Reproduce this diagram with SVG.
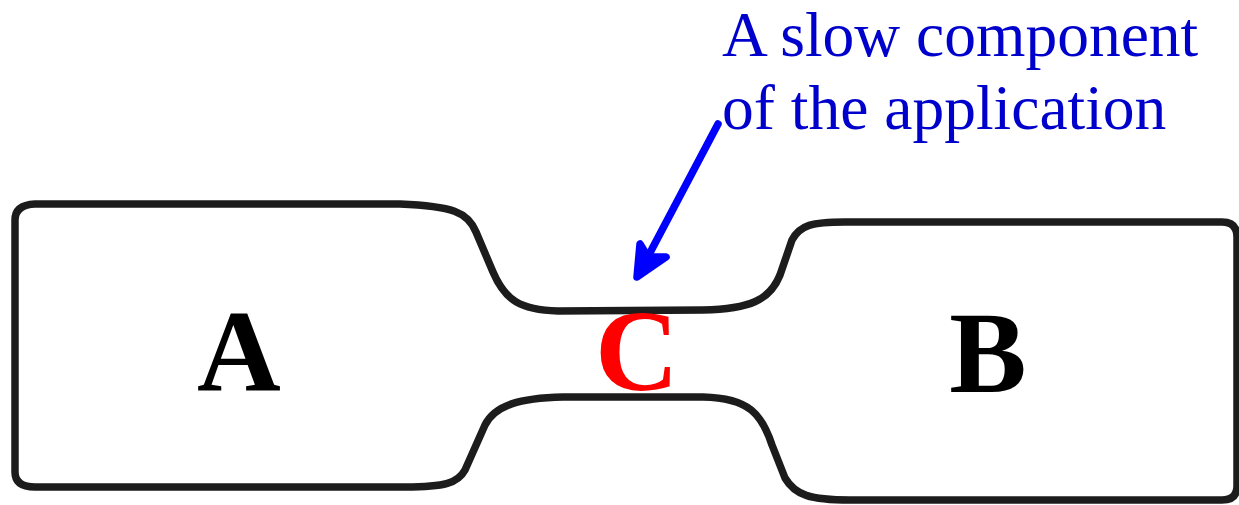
<svg xmlns="http://www.w3.org/2000/svg" width="1239" height="505" viewBox="0 0 1239 505">
<style>
.outline{fill:none;stroke:#1c1c1c;stroke-width:7.5;stroke-linejoin:round;stroke-linecap:round}
.big{font-family:"Liberation Serif","Times New Roman",serif;font-weight:bold;font-size:116px;text-anchor:middle}
.note{font-family:"Liberation Serif","Times New Roman",serif;font-size:63.5px;fill:#0000CC}
.arrow{stroke:#0000FF;stroke-width:7.5;stroke-linecap:round;stroke-linejoin:round;fill:#0000FF}
</style>
<rect width="1239" height="505" fill="#ffffff"/>
<g id="outline">
<path class="outline" d="M15,220 Q15,205 35,204 L400,204 C452,206 468,212 476,232 L493,272 C505,300 520,310 558,311 L703,310 C750,309 770,300 780,275 L792,240 C800,225 812,222 845,222 L1222,222 Q1237,222 1237,237 L1237,486 Q1237,500 1222,500 L850,500 C810,500 795,495 785,478 L772,445 C762,415 750,398 703,397 L563,397 C520,398 495,405 485,425 L465,470 C458,483 445,487 405,487 L35,487 Q15,487 15,472 Z"/>
</g>
<g id="nodeA"><text class="big" x="239" y="390" fill="#000000">A</text></g>
<g id="nodeC"><text class="big" x="637" y="390" fill="#FF0000">C</text></g>
<g id="nodeB"><text class="big" x="988" y="392" fill="#000000">B</text></g>
<g id="annotation">
<text class="note" x="722" y="56">A slow component</text>
<text class="note" x="722" y="129">of the application</text>
</g>
<g id="connectors">
<line class="arrow" x1="718" y1="124" x2="643" y2="266"/>
<path class="arrow" d="M640,244 L637,277 L666,257 L648,257 Z"/>
</g>
</svg>
